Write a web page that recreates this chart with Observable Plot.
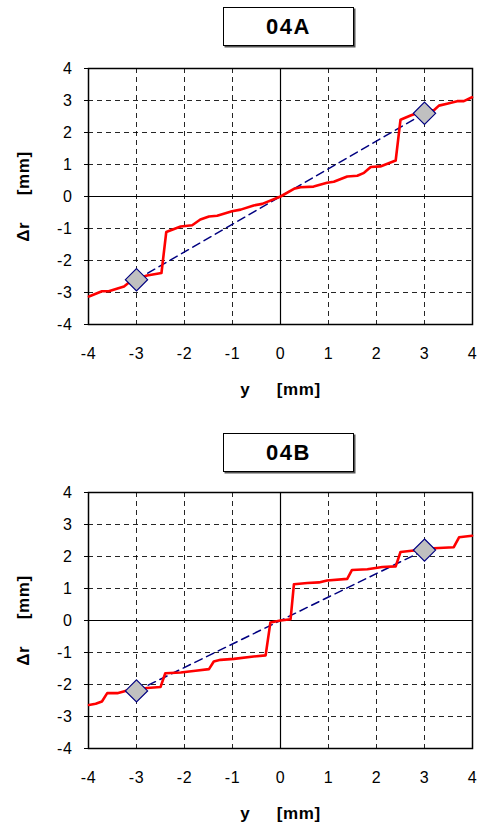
<!DOCTYPE html>
<html>
<head>
<meta charset="utf-8">
<script src="https://cdn.jsdelivr.net/npm/d3@7"></script>
<script src="https://cdn.jsdelivr.net/npm/@observablehq/plot@0.6"></script>
<style>
  html, body { margin: 0; padding: 0; background: #fff; }
  #wrap { position: relative; width: 479px; height: 822px; overflow: hidden; font-family: "Liberation Sans", Arial, sans-serif; }
  .panel { position: absolute; left: 0; }
  .tbox { position: absolute; left: 223px; width: 129px; height: 37px; border: 1.5px solid #000;
          box-shadow: 1.5px 1.5px 0 #555; background: #fff; text-align: center; line-height: 38px;
          font-weight: bold; font-size: 22px; letter-spacing: 1.5px; }
</style>
</head>
<body>
<div id="wrap"></div>
<script>
// Panel titles
const titles = ["04A", "04B"];
// Axis tick values
const tickVals = [-4, -3, -2, -1, 0, 1, 2, 3, 4];
const gridVals = [-3, -2, -1, 1, 2, 3];

// 04A measured curve
const xA = [-3.99,-3.72,-3.58,-3.26,-3.125,-2.78,-2.48,-2.38,-2.08,-1.84,-1.67,-1.49,-1.32,-1.01,-0.83,-0.56,-0.38,0,0.28,0.42,0.69,0.97,1.11,1.39,1.6,1.74,1.88,2.08,2.40,2.5,2.71,2.99,3.19,3.30,3.47,3.68,3.82,3.99];
const rA = [-3.125,-2.96,-2.96,-2.81,-2.65,-2.47,-2.39,-1.11,-0.94,-0.90,-0.72,-0.625,-0.60,-0.46,-0.41,-0.28,-0.23,0,0.24,0.29,0.31,0.43,0.46,0.625,0.65,0.74,0.92,0.94,1.125,2.40,2.53,2.69,2.69,2.84,2.90,2.98,2.98,3.10];

// 04B measured curve
const xB = [-3.99,-3.85,-3.72,-3.61,-3.40,-3.23,-2.97,-2.78,-2.5,-2.40,-2.08,-1.77,-1.49,-1.39,-1.25,-0.97,-0.56,-0.31,-0.21,0,0.21,0.28,0.56,0.8,0.97,1.39,1.49,1.81,2.12,2.40,2.5,2.78,3.19,3.61,3.72,3.99];
const rB = [-2.64,-2.60,-2.53,-2.27,-2.27,-2.20,-2.15,-2.11,-2.08,-1.65,-1.625,-1.57,-1.52,-1.28,-1.23,-1.20,-1.125,-1.09,-0.06,0,0.04,1.135,1.17,1.19,1.25,1.30,1.58,1.60,1.67,1.69,2.14,2.19,2.26,2.29,2.60,2.65];

// Reference markers (diamonds) and dashed line through them
const xM = [-3, 3];
const rMA = [-2.6, 2.6];
const rMB = [-2.2, 2.2];

const wrap = document.getElementById("wrap");
const fmt = d => String(d);
const sp = "\u00a0\u00a0\u00a0\u00a0\u00a0";

function panel(title, xs, rs, rm, top, mTop, mBottom, titleTop) {
  const curve = xs.map((x, i) => ({x, r: rs[i]}));
  const marks = xM.map((x, i) => ({x, r: rm[i]}));
  const chart = Plot.plot({
    width: 479,
    height: mTop + 256 + mBottom,
    marginTop: mTop,
    marginBottom: mBottom,
    marginLeft: 88,
    marginRight: 7,
    style: { fontFamily: "'Liberation Sans', Arial, sans-serif", fontSize: "16px", color: "#000", background: "#fff" },
    x: { domain: [-4, 4] },
    y: { domain: [-4, 4] },
    marks: [
      Plot.ruleX(gridVals, { stroke: "#000", strokeWidth: 1, strokeDasharray: "5,4", strokeOpacity: 0.85 }),
      Plot.ruleY(gridVals, { stroke: "#000", strokeWidth: 1, strokeDasharray: "5,4", strokeOpacity: 0.85 }),
      Plot.ruleX([0], { stroke: "#000", strokeWidth: 1.2 }),
      Plot.ruleY([0], { stroke: "#000", strokeWidth: 1.2 }),
      Plot.axisX({ ticks: tickVals, tickFormat: fmt, tickSize: 0, tickPadding: 23, fontSize: 16,
        label: "y" + sp + "[mm]", labelAnchor: "center", labelArrow: "none", labelOffset: 70 }),
      Plot.axisY({ ticks: tickVals, tickFormat: fmt, tickSize: 4, tickPadding: 12, fontSize: 16,
        label: "\u0394r" + sp + "[mm]", labelAnchor: "center", labelArrow: "none", labelOffset: 72 }),
      Plot.frame({ stroke: "#000", strokeWidth: 1.5 }),
      Plot.line(marks, { x: "x", y: "r", stroke: "#000080", strokeWidth: 1.5, strokeDasharray: "8,5" }),
      Plot.line(curve, { x: "x", y: "r", stroke: "#ff0000", strokeWidth: 2.6, curve: "linear" }),
      Plot.dot(marks, { x: "x", y: "r", symbol: "diamond2", r: 10, fill: "#c0c0c0", stroke: "#000080", strokeWidth: 1.2 })
    ]
  });
  chart.classList.add("panel");
  chart.style.top = top + "px";
  chart.querySelectorAll("text").forEach(t => {
    t.style.fontSize = "16px";
    t.style.fill = "#000";
    t.style.letterSpacing = "0.6px";
  });
  chart.querySelectorAll("g[aria-label$='axis label'] text").forEach(t => {
    t.style.fontWeight = "bold";
    t.style.fontSize = "17px";
  });
  wrap.appendChild(chart);
  const box = document.createElement("div");
  box.className = "tbox";
  box.style.top = titleTop + "px";
  box.textContent = title;
  wrap.appendChild(box);
}

panel(titles[0], xA, rA, rMA, 0, 68, 86, 7);
panel(titles[1], xB, rB, rMB, 410, 82, 74, 433);
</script>
</body>
</html>
